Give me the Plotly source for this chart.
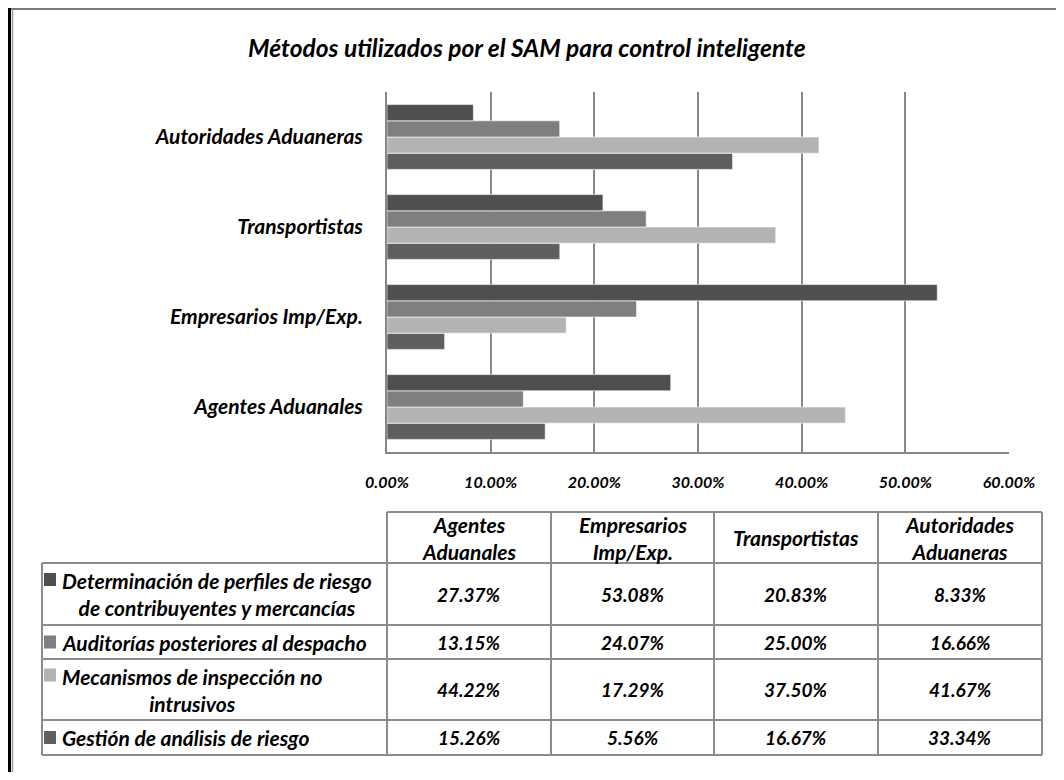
import plotly.graph_objects as go

# ---- data ----
categories = ["Agentes Aduanales", "Empresarios Imp/Exp.", "Transportistas", "Autoridades Aduaneras"]
header_labels = ["Agentes<br>Aduanales", "Empresarios<br>Imp/Exp.", "Transportistas", "Autoridades<br>Aduaneras"]
series_names = [
    "Determinación de perfiles de riesgo<br>de contribuyentes y mercancías",
    "Auditorías posteriores al despacho",
    "Mecanismos de inspección no<br>intrusivos",
    "Gestión de análisis de riesgo",
]
determinacion = [27.37, 53.08, 20.83, 8.33]
auditorias = [13.15, 24.07, 25.00, 16.66]
mecanismos = [44.22, 17.29, 37.50, 41.67]
gestion = [15.26, 5.56, 16.67, 33.34]
series_values = [determinacion, auditorias, mecanismos, gestion]
series_colors = ["#4f4f4f", "#7f7f7f", "#b3b3b3", "#5f5f5f"]
x_ticks = [0, 10, 20, 30, 40, 50, 60]

OX, OY = 8, 8  # page body margin offset
W, H = 1064 - 2 * OX, 780 - 2 * OY  # fit inside the viewport, no scrollbars
FONT = "Lato"
GRID = "#878787"


def px(x):
    return (x - OX) / W


def py(y):
    return 1 - (y - OY) / H


fig = go.Figure()
# plotly stacks grouped horizontal bars bottom-up, so add in reverse order
for name, vals, col in reversed(list(zip(series_names, series_values, series_colors))):
    fig.add_trace(go.Bar(
        y=categories, x=vals, orientation="h", name=name.replace("<br>", " "),
        marker=dict(color=col, line=dict(color="rgba(255,255,255,0.6)", width=1)),
        showlegend=False,
    ))

fig.update_layout(
    width=W, height=H,
    margin=dict(l=0, r=0, t=0, b=0, autoexpand=False),
    paper_bgcolor="white", plot_bgcolor="white",
    barmode="group", bargap=0.28, bargroupgap=0,
    font=dict(family=FONT, color="black"),
    xaxis=dict(
        domain=[px(387), px(1009)], range=[0, 60], automargin=False,
        tickvals=x_ticks, ticktext=[f"{v:.2f}%" for v in x_ticks],
        showgrid=True, gridcolor=GRID, gridwidth=1.8,
        showline=True, linecolor=GRID, linewidth=1.8,
        zeroline=False, ticks="", ticklabelstandoff=15,
        tickfont=dict(family=FONT, size=16, weight="bold", style="italic", color="black"),
        fixedrange=True,
    ),
    yaxis=dict(
        domain=[py(452), py(92)], automargin=False,
        categoryorder="array", categoryarray=categories,
        showline=True, linecolor=GRID, linewidth=1.8,
        showgrid=False, ticks="", ticklabelstandoff=18,
        tickfont=dict(family=FONT, size=21, weight="bold", style="italic", color="black"),
        fixedrange=True,
    ),
)

# title
fig.add_annotation(
    text="Métodos utilizados por el SAM para control inteligente",
    x=px(527), y=py(47), xref="paper", yref="paper", showarrow=False,
    xanchor="center", yanchor="middle",
    font=dict(family=FONT, size=24.5, weight="bold", style="italic", color="black"),
)

shapes = []
# outer frame pieces
shapes.append(dict(type="line", xref="paper", yref="paper", x0=0, x1=1, y0=py(9), y1=py(9),
                   line=dict(color="#7a7a7a", width=2)))
shapes.append(dict(type="line", xref="paper", yref="paper", x0=px(9.5), x1=px(9.5), y0=1, y1=0,
                   line=dict(color="black", width=3)))
shapes.append(dict(type="line", xref="paper", yref="paper", x0=px(12.5), x1=px(12.5), y0=py(9), y1=0,
                   line=dict(color="#9a9a9a", width=1.5)))

# ---- data table drawn below the chart ----
col_edges = [42, 387, 551, 714, 878, 1042]
row_edges = [512, 563, 625, 659, 720, 755]
TL = dict(color="#8c8c8c", width=2)
for i, yv in enumerate(row_edges):
    x0 = col_edges[1] if i == 0 else col_edges[0]
    shapes.append(dict(type="line", xref="paper", yref="paper", x0=px(x0), x1=px(col_edges[-1]),
                       y0=py(yv), y1=py(yv), line=TL))
for j, xv in enumerate(col_edges):
    y0 = row_edges[1] if j == 0 else row_edges[0]
    shapes.append(dict(type="line", xref="paper", yref="paper", x0=px(xv), x1=px(xv),
                       y0=py(y0), y1=py(row_edges[-1]), line=TL))

label_font = dict(family=FONT, size=21, weight="bold", style="italic", color="black")
value_font = dict(family=FONT, size=19, weight="bold", style="italic", color="black")
LINE_H = 29
# header
for j, lab in enumerate(header_labels):
    xc = (col_edges[j + 1] + col_edges[j + 2]) / 2
    yc = (row_edges[0] + row_edges[1]) / 2
    fig.add_annotation(text=lab, x=px(xc), y=py(yc), xref="paper", yref="paper", showarrow=False,
                       xanchor="center", yanchor="middle", align="center", font=label_font)
# rows
for i, (name, vals, col) in enumerate(zip(series_names, series_values, series_colors)):
    yc = (row_edges[i + 1] + row_edges[i + 2]) / 2
    nlines = name.count("<br>") + 1
    ys = yc - (nlines - 1) * LINE_H / 2
    # legend key square
    shapes.append(dict(type="rect", xref="paper", yref="paper", x0=px(44), x1=px(56),
                       y0=py(ys - 6.5), y1=py(ys + 6.5), fillcolor=col, line=dict(width=0)))
    fig.add_annotation(
        text=name, x=px(60), y=py(yc), xref="paper", yref="paper", showarrow=False,
        xanchor="left", yanchor="middle", align="center", font=label_font,
    )
    for j, v in enumerate(vals):
        xc = (col_edges[j + 1] + col_edges[j + 2]) / 2
        fig.add_annotation(text=f"{v:.2f}%", x=px(xc), y=py(yc), xref="paper", yref="paper",
                           showarrow=False, xanchor="center", yanchor="middle", font=value_font)

fig.update_layout(shapes=shapes)
fig.write_html("out.html")
